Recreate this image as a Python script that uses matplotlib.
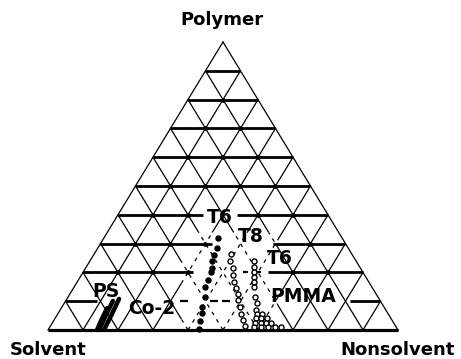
import numpy as np
import matplotlib
matplotlib.use("Agg")
import matplotlib.pyplot as plt

# Cloud-point compositions in wt% (polymer, nonsolvent); solvent is the balance
ps_strokes_polymer = [[10.8, 5.5, 0.0], [10.1, 5.0, 0.0], [7.6, 3.5, 0.0]]
ps_strokes_nonsolvent = [[14.9, 15.5, 16.0], [13.5, 14.0, 14.6], [13.1, 13.5, 14.0]]

co2_polymer = [32, 28.5, 26, 24, 21.5, 20, 17.5, 15, 11.5, 8, 6, 3, 0.5]
co2_nonsolvent = [32.5, 34, 34.5, 35, 36, 36.5, 37, 37.5, 39, 40, 41, 42, 43]

t8_polymer = [26.5, 24, 21.5, 19, 16.5, 14.5, 12.5, 10.5, 8, 5.5, 3.5, 1.5]
t8_nonsolvent = [39, 40, 42, 43.5, 45, 46.5, 48, 49, 51, 52.5, 54, 55.5]

t6_polymer = [24, 22, 20, 18.5, 16.5, 15, 11.5, 9.5]
t6_nonsolvent = [47, 48, 49, 49.5, 50.5, 51.5, 53.5, 55]

pmma_polymer = [7, 5.5, 5.5, 4, 4, 4, 2.5, 2.5, 2.5, 2.5, 1, 1, 1, 1, 1]
pmma_nonsolvent = [56, 57, 58.5, 57.5, 59, 60.5, 58, 59.5, 61, 62.5, 58.5, 60.5, 62.5, 64.5, 66]

vertex_labels = ["Polymer", "Solvent", "Nonsolvent"]


def to_xy(polymer, nonsolvent):
    """Ternary (fractions) -> Cartesian position inside the triangle."""
    p = np.asarray(polymer, float)
    n = np.asarray(nonsolvent, float)
    return n + p / 2.0, p


def pct(values):
    return np.asarray(values, float) / 100.0


fig = plt.figure(figsize=(4.61, 3.59), dpi=100)
fig.patch.set_facecolor("white")
ax = fig.add_axes([0.1041, 0.0808, 0.7592, 0.8022])
ax.set_xlim(0, 1)
ax.set_ylim(0, 1)
ax.axis("off")

ink = "black"
thin = 0.9
heavy = 2.0


def in_two_phase_zone(x, y):
    # grid is only sketched (broken) where the cloud-point curves sit
    return (x > 0.38) & (x < 0.66) & (y < 0.34)


def grid_line(x0, y0, x1, y1):
    t = np.linspace(0, 1, 400)
    xs = x0 + (x1 - x0) * t
    ys = y0 + (y1 - y0) * t
    inside = in_two_phase_zone(xs, ys)
    start = 0
    for i in range(1, len(t) + 1):
        if i == len(t) or inside[i] != inside[start]:
            seg_x, seg_y = xs[start:i], ys[start:i]
            if inside[start]:
                ax.plot(seg_x, seg_y, color=ink, lw=thin, ls=(0, (3, 4)))
            else:
                ax.plot(seg_x, seg_y, color=ink, lw=thin)
            start = i


# triangle sides
ax.plot([0, 0.5], [0, 1], color=ink, lw=thin, clip_on=False)
ax.plot([1, 0.5], [0, 1], color=ink, lw=thin, clip_on=False)
ax.plot([0, 1], [0, 0], color=ink, lw=2.3, clip_on=False, solid_capstyle="butt")

# thin diagonal grid: constant nonsolvent and constant solvent every 10 %
for k in range(1, 10):
    f = k / 10.0
    x0, y0 = to_xy(0.0, f)
    x1, y1 = to_xy(1.0 - f, f)
    grid_line(x0, y0, x1, y1)
    x0, y0 = to_xy(0.0, 1.0 - f)
    x1, y1 = to_xy(1.0 - f, 0.0)
    grid_line(x0, y0, x1, y1)

# heavy iso-polymer lines; lower levels are broken around the curves
level_segments = {
    1: [(0.049, 0.14), (0.863, 0.948)],
    2: [(0.10, 0.414), (0.629, 0.90)],
    3: [(0.15, 0.469), (0.643, 0.85)],
    4: [(0.20, 0.443), (0.54, 0.80)],
}
level_dashes = {
    1: [(0.377, 0.40), (0.463, 0.486), (0.497, 0.52)],
    2: [(0.557, 0.571), (0.594, 0.609)],
}
for k in range(1, 10):
    p = k / 10.0
    segs = level_segments.get(k, [(p / 2.0, 1.0 - p / 2.0)])
    for a, b in segs:
        ax.plot([a, b], [p, p], color=ink, lw=heavy, solid_capstyle="butt")
        nodes = p / 2.0 + np.arange(1, 10 - k) / 10.0
        nodes = nodes[(nodes > a + 0.01) & (nodes < b - 0.01)]
        ax.plot(nodes, np.full_like(nodes, p), ls="none", marker="o",
                ms=2.4, color=ink)
    for a, b in level_dashes.get(k, []):
        ax.plot([a, b], [p, p], color=ink, lw=1.6, solid_capstyle="butt")

# PS: dense cloud-point traces near the solvent corner
for pp, nn in zip(ps_strokes_polymer, ps_strokes_nonsolvent):
    x, y = to_xy(pct(pp), pct(nn))
    ax.plot(x, y, color=ink, lw=3.2, solid_capstyle="round", clip_on=False)

# Co-2: filled circles
x, y = to_xy(pct(co2_polymer), pct(co2_nonsolvent))
ax.plot(x, y, ls="none", marker="o", ms=3.6, color=ink, clip_on=False)

open_style = dict(ls="none", marker="o", ms=3.6, mfc="white", mec=ink,
                  mew=1.0, clip_on=False)

# T8: open circles
x, y = to_xy(pct(t8_polymer), pct(t8_nonsolvent))
ax.plot(x, y, **open_style)

# T6: open circles
x, y = to_xy(pct(t6_polymer), pct(t6_nonsolvent))
ax.plot(x, y, **open_style)

# PMMA: packed open circles at the base
x, y = to_xy(pct(pmma_polymer), pct(pmma_nonsolvent))
ax.plot(x, y, **open_style)

# curve labels
label_style = dict(fontsize=13.5, fontweight="bold", color=ink,
                   ha="center", va="center")
for text, (p, n) in [("T6", (0.392, 0.295)), ("T8", (0.323, 0.418)),
                     ("T6", (0.247, 0.540)), ("PS", (0.135, 0.098)),
                     ("Co-2", (0.073, 0.261)), ("PMMA", (0.115, 0.671))]:
    x, y = to_xy(p, n)
    ax.text(x, y, text, **label_style)

# vertex labels
vstyle = dict(fontsize=13, fontweight="bold", color=ink, va="center")
fig.text(222 / 461, 1 - 20 / 359, vertex_labels[0], ha="center", **vstyle)
fig.text(48 / 461, 1 - 350 / 359, vertex_labels[1], ha="center", **vstyle)
fig.text(398 / 461, 1 - 350 / 359, vertex_labels[2], ha="center", **vstyle)

fig.savefig("out.png", dpi=100, facecolor="white")
